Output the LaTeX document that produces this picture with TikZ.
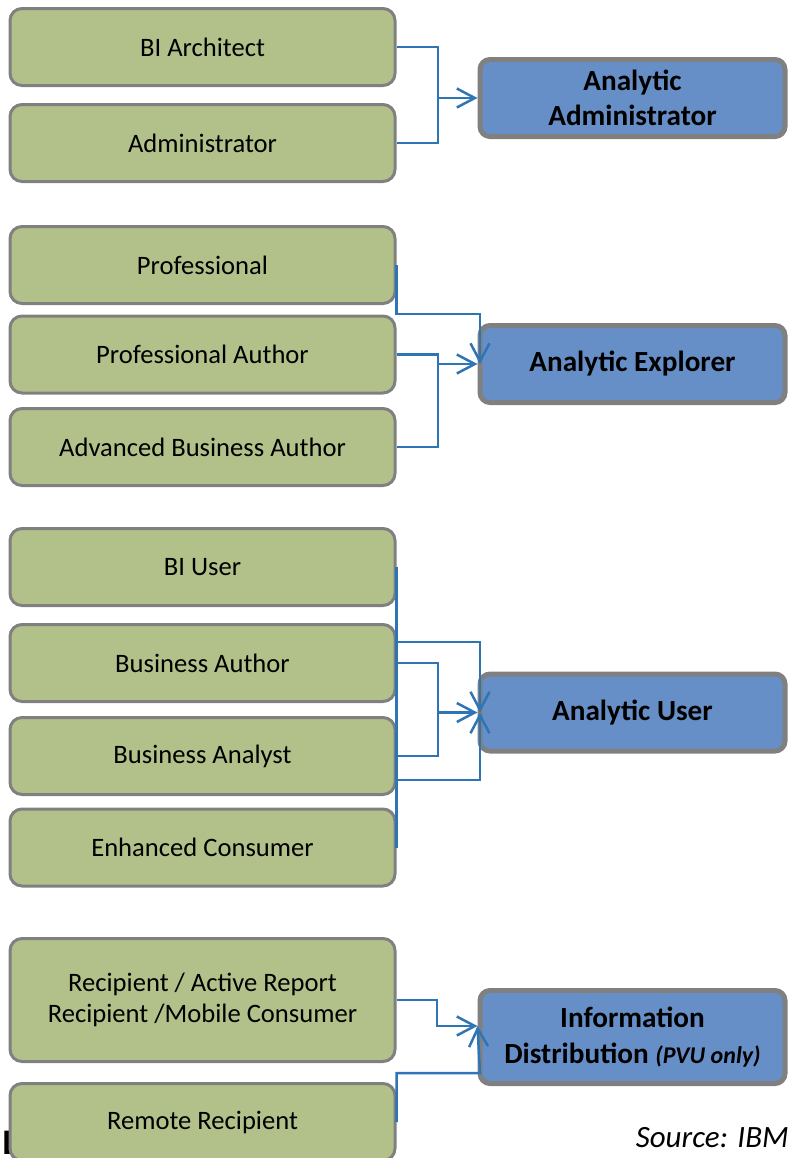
\documentclass[tikz,border=0pt]{standalone}
\usepackage{fontspec}
\setmainfont{Carlito}
\usetikzlibrary{arrows.meta}

\definecolor{rolefill}{RGB}{178,193,138}
\definecolor{kindfill}{RGB}{102,143,199}
\definecolor{boxedge}{RGB}{128,128,128}
\definecolor{linkblue}{RGB}{46,117,182}

\begin{document}
\begin{tikzpicture}[x=0.5pt,y=-0.5pt,>={Straight Barb[length=9pt,width=9.5pt]},
	role/.style={draw=boxedge,fill=rolefill,line width=1.5pt,rounded corners=6pt,
		minimum width=192.5pt,minimum height=38.5pt,inner sep=0pt,align=center,
		font=\fontsize{13.3}{15.5}\selectfont},
	kind/.style={draw=boxedge,fill=kindfill,line width=2.5pt,rounded corners=5pt,
		minimum width=152.5pt,minimum height=38.5pt,inner sep=0pt,align=center,
		font=\bfseries\fontsize{14.6}{17.5}\selectfont},
	link/.style={draw=linkblue,line width=1.25pt}]

\useasboundingbox (0,0) rectangle (788,1158);

\node[anchor=base west,inner sep=0pt,font=\bfseries\fontsize{18}{18}\selectfont] (cut) at (2,1154) {E};

\foreach \n/\y/\t in {g1/47/BI Architect,g2/143/Administrator,g3/265/Professional,
	g4/354.5/Professional Author,g5/447/Advanced Business Author,g6/567/BI User,
	g7/663/Business Author,g8/756/Business Analyst,g9/847.5/Enhanced Consumer,
	g11/1122/Remote Recipient}{
	\node[role] (\n) at (202.5,\y) {\t};
}
\node[role,minimum height=61.5pt] (g10) at (202.5,1000) {Recipient / Active Report\\Recipient /Mobile Consumer};

\node[kind] (b1) at (632.5,98) {Analytic\\Administrator};
\node[kind] (b2) at (632.5,364) {Analytic Explorer};
\node[kind] (b3) at (632.5,712.5) {Analytic User};
\node[kind,minimum height=46.5pt,font=\bfseries\fontsize{14.6}{18}\selectfont] (b4) at (632.5,1037)
	{Information\\Distribution {\itshape\fontsize{12}{12}\selectfont(PVU only)}};

\node[anchor=base east,inner sep=0pt,font=\itshape\fontsize{15.5}{15.5}\selectfont] (src) at (789,1147) {Source: IBM};

% administrator
\coordinate (j1) at (438,98);
\draw[link] (g1.east) -| (j1) |- (g2.east);
\draw[link,->] (j1) -- (b1.west);

% explorer
\coordinate (j2) at (438,364);
\coordinate (t2) at (480,314);
\draw[link,->] (g3.east) |- (t2) -- (t2 |- b2.west);
\draw[link] (g4.east) -| (j2) |- (g5.east);
\draw[link,->] (j2) -- (b2.west);

% user
\coordinate (j3) at (438,712.5);
\coordinate (u1) at (480,642);
\coordinate (u2) at (480,780);
\draw[link] (g6.east) -- (g9.east);
\draw[link] (g7.east) -| (j3) |- (g8.east);
\draw[link,->] (j3) -- (b3.west);
\draw[link,->] (u1 -| g7.east) -- (u1) -- (u1 |- b3.west);
\draw[link,->] (u2 -| g8.east) -- (u2) -- (u2 |- b3.west);

% distribution
\coordinate (j4) at (437,1026);
\coordinate (u4) at (480,1073);
\draw[link,->] (g10.east) -| (j4) -- (j4 -| b4.west);
\draw[link,->] (g11.east) |- (u4) -- (j4 -| b4.west);

\end{tikzpicture}
\end{document}
